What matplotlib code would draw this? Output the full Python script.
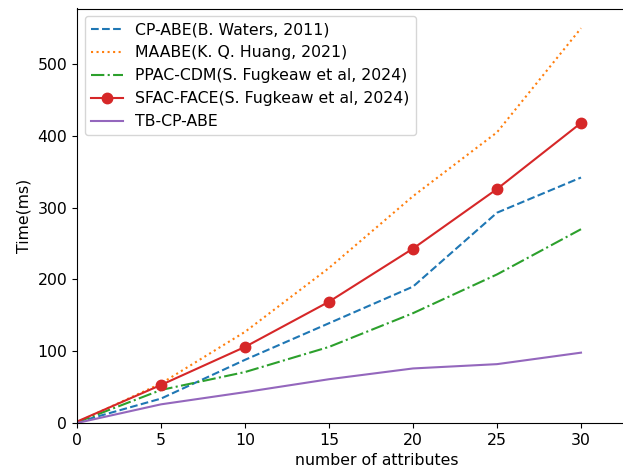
import numpy as np
import matplotlib.pyplot as plt

attributes = [0, 5, 10, 15, 20, 25, 30]

cp_abe = [1, 34, 88, 139, 190, 293, 342]
maabe = [1, 55, 127, 216, 316, 405, 550]
ppac_cdm = [1, 46, 71, 106, 153, 207, 270]
sfac_face = [2, 53, 106, 169, 243, 326, 418]
tb_cp_abe = [0, 26, 43, 61, 76, 82, 98]

labels = ["CP-ABE(B. Waters, 2011)",
          "MAABE(K. Q. Huang, 2021)",
          "PPAC-CDM(S. Fugkeaw et al, 2024)",
          "SFAC-FACE(S. Fugkeaw et al, 2024)",
          "TB-CP-ABE"]


def main():
    plt.rcParams['font.size'] = 11.3
    fig = plt.figure(figsize=(6.23, 4.72), dpi=100)
    # the original picture is cropped on the right, so the axes run past the edge
    ax = fig.add_axes([77 / 623, 49 / 472, 600 / 623, 414.5 / 472])

    ax.plot(attributes, cp_abe, '--', color='tab:blue', label=labels[0])
    ax.plot(attributes, maabe, ':', color='tab:orange', label=labels[1])
    ax.plot(attributes, ppac_cdm, '-.', color='tab:green', label=labels[2])
    # no marker at the origin
    ax.plot(attributes, sfac_face, '-o', color='tab:red', markersize=7.5,
            markevery=list(range(1, len(attributes))), label=labels[3])
    ax.plot(attributes, tb_cp_abe, '-', color='tab:purple', label=labels[4])

    ax.set_xlim(0, 600 / 16.8)
    ax.set_ylim(0, 577.5)
    ax.set_xticks(attributes)
    ax.set_xlabel("number of attributes")
    ax.set_ylabel("Time(ms)")
    ax.legend(loc='upper left')

    fig.savefig("out.png", dpi=100)


if __name__ == "__main__":
    main()
